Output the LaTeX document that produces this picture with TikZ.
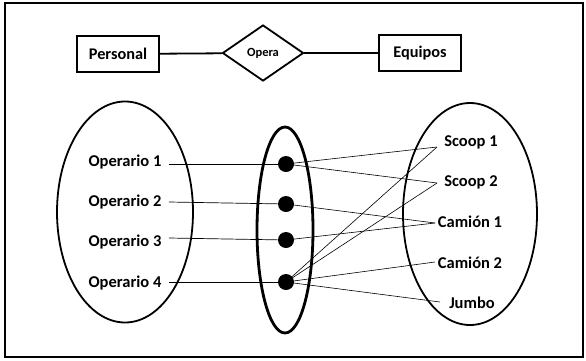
\documentclass[tikz,border=0pt]{standalone}
\usepackage{fontspec}
\setmainfont{Carlito}
\usetikzlibrary{shapes.geometric}
\begin{document}
\begin{tikzpicture}[x=1pt,y=-1pt,
  lbl/.style={font=\bfseries\fontsize{16.5}{18}\selectfont, inner sep=1pt},
  entity/.style={draw, line width=1.3pt, minimum width=82pt, minimum height=36pt, font=\bfseries\fontsize{16.3}{18}\selectfont, inner sep=0pt},
  rel/.style={draw, diamond, line width=1.8pt, minimum width=81pt, minimum height=56pt, inner sep=0pt, aspect=1.45, font=\bfseries\fontsize{12.5}{14}\selectfont},
  link/.style={line width=0.7pt},
  conn/.style={line width=0.6pt},
  dotn/.style={circle, fill=black, minimum size=16pt, inner sep=0pt}]
\useasboundingbox (0,0) rectangle (586,360);
\draw[line width=2pt] (5,3) rectangle (583,357);
% ER header
\node[entity] (pers) at (118,54) {Personal};
\node[rel] (opera) at (263,53) {Opera};
\node[entity] (equi) at (420,53) {Equipos};
\draw[line width=1.8pt] (pers) -- (opera);
\draw[line width=1.8pt] (opera) -- (equi);
% sets
\node[draw, ellipse, line width=1.8pt, minimum width=136pt, minimum height=221pt, inner sep=0pt] (setL) at (125,212) {};
\node[draw, ellipse, line width=2.8pt, minimum width=56pt, minimum height=206pt, inner sep=0pt] (setM) at (285,230) {};
\node[draw, ellipse, line width=1.8pt, minimum width=134pt, minimum height=222pt, inner sep=0pt] (setR) at (470,214) {};
% left labels
\node[lbl] (o1) at (125,162) {Operario 1};
\node[lbl] (o2) at (125,202) {Operario 2};
\node[lbl] (o3) at (125,242) {Operario 3};
\node[lbl] (o4) at (125,283) {Operario 4};
% right labels
\node[lbl] (s1) at (471,142) {Scoop 1};
\node[lbl] (s2) at (471,182) {Scoop 2};
\node[lbl] (c1) at (470,222) {Camión 1};
\node[lbl] (c2) at (470,263) {Camión 2};
\node[lbl] (jb) at (472,303) {Jumbo};
% anchors
\coordinate (o1e) at (169,164);
\coordinate (o2e) at (169,202);
\coordinate (o3e) at (169,238);
\coordinate (o4e) at (169,282);
\coordinate (s1w) at (437,147);
\coordinate (s2w) at (437,183);
\coordinate (c1w) at (435,223);
\coordinate (c2w) at (435,262);
\coordinate (jbw) at (440,302);
% dots positions
\coordinate (d1) at (286,164);
\coordinate (d2) at (286,204);
\coordinate (d3) at (286,240);
\coordinate (d4) at (286,282);
% connectors
\draw[link] (o1e) -- (d1);
\draw[link] (o2e) -- (d2);
\draw[link] (o3e) -- (d3);
\draw[link] (o4e) -- (d4);
\draw[conn] (d1) -- (s1w);
\draw[conn] (d1) -- (s2w);
\draw[conn] (d2) -- (c1w);
\draw[conn] (d3) -- (c1w);
\draw[conn] (d4) -- (s1w);
\draw[conn] (d4) -- (s2w);
\draw[conn] (d4) -- (c2w);
\draw[conn] (d4) -- (jbw);
% dots
\node[dotn] (p1) at (d1) {};
\node[dotn] (p2) at (d2) {};
\node[dotn] (p3) at (d3) {};
\node[dotn] (p4) at (d4) {};
\end{tikzpicture}
\end{document}
